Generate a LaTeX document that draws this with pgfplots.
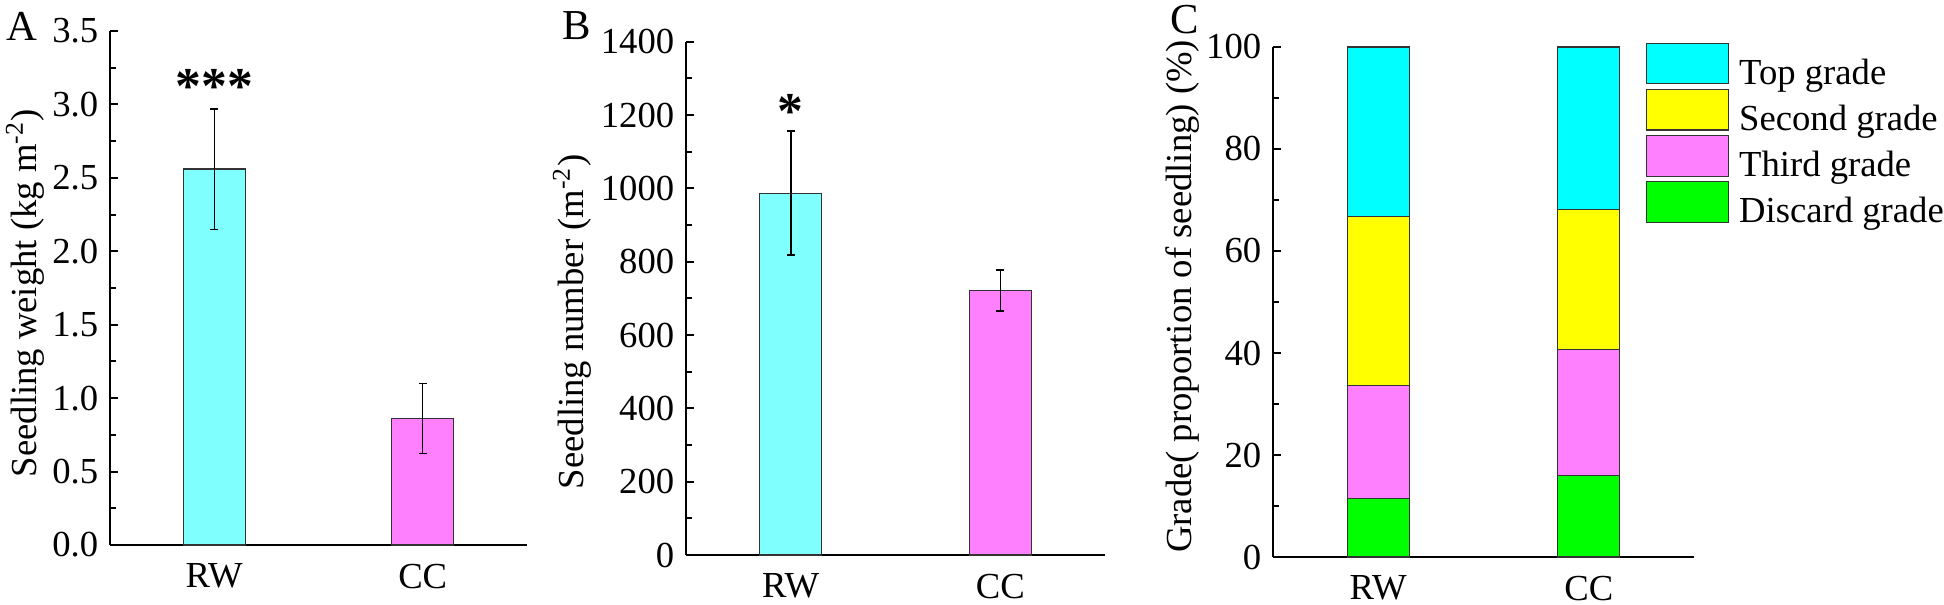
\documentclass[border=0pt]{standalone}
\usepackage{fontspec}
\setmainfont{Liberation Serif}
\usepackage{pgfplots}
\pgfplotsset{compat=1.18}
\definecolor{lcyan}{RGB}{128,255,255}
\definecolor{lmag}{RGB}{255,128,255}
\definecolor{cyanC}{RGB}{0,255,255}
\definecolor{yelC}{RGB}{255,255,0}
\definecolor{greenC}{RGB}{0,255,0}
\newcommand{\tf}{\fontsize{11}{12.5}\selectfont}
\pgfplotsset{
  myaxis/.style={
    scale only axis,
    axis x line*=bottom, axis y line*=left,
    axis line style={line width=0.6pt, -},
    tick align=inside,
    ytick pos=left,
    xtick={0,1}, xticklabels={RW,CC},
    xmin=-0.5, xmax=1.5, ymin=0,
    enlargelimits=false,
    major x tick style={draw=none},
    major tick length=2.4pt, minor tick length=1.8pt,
    tick style={line width=0.6pt, black},
    minor y tick num=1,
    tick label style={font=\tf},
    label style={font=\tf},
    /pgf/number format/assume math mode=true,
    /pgf/number format/1000 sep={},
    xticklabel style={yshift=-2.1pt},
    clip=false,
  },
  mybar/.style={ybar, bar width=18.6pt, bar shift=0pt, draw=black!80, line width=0.35pt,
    error bars/y dir=both, error bars/y explicit,
    error bars/error bar style={draw=black, line width=0.45pt},
    error bars/error mark options={rotate=90, mark size=1.2pt, line width=0.45pt, draw=black}},
}
\begin{document}
\begin{tikzpicture}
\useasboundingbox (0,0) rectangle (583.2pt,181.5pt);
% Panel A
\begin{axis}[myaxis, at={(33pt,18pt)}, anchor=south west,
  width=125.1pt, height=154.2pt, ymax=3.5,
  ytick={0,0.5,1,1.5,2,2.5,3,3.5},
  yticklabel style={/pgf/number format/.cd, fixed, fixed zerofill, precision=1},
  ylabel={Seedling weight (kg m\textsuperscript{-2})},
  ylabel style={at={(axis description cs:-0.204,0.49)}, anchor=center}]
\addplot[fill=lcyan, mybar] coordinates {(0,2.56) +- (0,0.41)};
\addplot[fill=lmag, mybar] coordinates {(1,0.862) +- (0,0.239)};
\node[font=\fontsize{15.5}{16}\selectfont\bfseries] at (axis cs:0,3.123) {***};
\end{axis}
% Panel B
\begin{axis}[myaxis, at={(205.8pt,15pt)}, anchor=south west,
  width=125.7pt, height=154pt, ymax=1400,
  ytick={0,200,400,600,800,1000,1200,1400},
  ylabel={Seedling number (m\textsuperscript{-2})},
  ylabel style={at={(axis description cs:-0.272,0.454)}, anchor=center}]
\addplot[fill=lcyan, mybar] coordinates {(0,987) +- (0,169)};
\addplot[fill=lmag, mybar] coordinates {(1,721) +- (0,56)};
\node[font=\fontsize{15.5}{16}\selectfont\bfseries] at (axis cs:0,1210) {*};
\end{axis}
% Panel C
\begin{axis}[myaxis, at={(381.9pt,14.4pt)}, anchor=south west,
  width=126.3pt, height=153pt, ymax=100,
  ytick={0,20,40,60,80,100},
  ylabel={Grade( proportion of seedling) (\%)},
  ylabel style={at={(axis description cs:-0.214,0.511)}, anchor=center},
  ybar stacked, bar width=18.6pt,
  reverse legend,
  legend image code/.code={\draw[#1] (0pt,-2.9pt) rectangle (24.6pt,9.3pt);},
  legend style={draw=none, fill=none, font=\tf,
    at={(axis description cs:0.886,1.0086)}, anchor=north west,
    inner sep=0pt, outer sep=0pt, row sep=-0.2pt, column sep=3pt,
    nodes={inner sep=0pt, outer sep=0pt}, cells={anchor=west}}]
\addplot[fill=greenC, draw=black!80, line width=0.35pt] coordinates {(0,11.4) (1,16.0)};
\addplot[fill=lmag, draw=black!80, line width=0.35pt] coordinates {(0,22.2) (1,24.7)};
\addplot[fill=yelC, draw=black!80, line width=0.35pt] coordinates {(0,33.1) (1,27.5)};
\addplot[fill=cyanC, draw=black!80, line width=0.35pt] coordinates {(0,33.3) (1,31.8)};
\legend{Discard grade, Third grade, Second grade, Top grade}
\end{axis}
\node[font=\fontsize{12.8}{14}\selectfont, inner sep=0pt] at (6.6pt,173.55pt) {A};
\node[font=\fontsize{12.8}{14}\selectfont, inner sep=0pt] at (172.95pt,173.85pt) {B};
\node[font=\fontsize{12.8}{14}\selectfont, inner sep=0pt] at (355.35pt,175.5pt) {C};
\end{tikzpicture}
\end{document}
